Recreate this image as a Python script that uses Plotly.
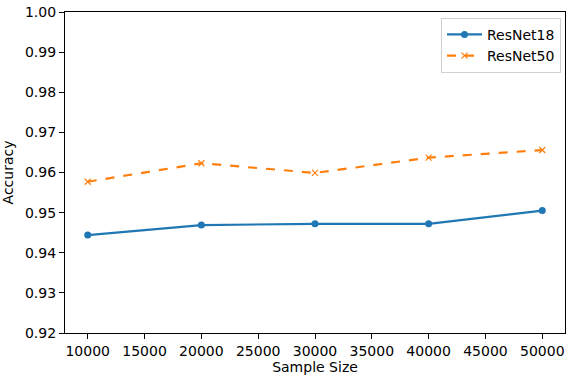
import plotly.graph_objects as go

sample_size = [10000, 20000, 30000, 40000, 50000]
resnet18 = [0.9444, 0.9469, 0.9472, 0.9472, 0.9505]
resnet50 = [0.9577, 0.9623, 0.9599, 0.9637, 0.9656]

y_ticks = [0.92, 0.93, 0.94, 0.95, 0.96, 0.97, 0.98, 0.99, 1.00]
x_ticks = [10000, 15000, 20000, 25000, 30000, 35000, 40000, 45000, 50000]

blue = "#1f77b4"
orange = "#ff7f0e"
font = "DejaVu Sans"

fig = go.Figure()
fig.add_trace(
    go.Scatter(
        x=sample_size,
        y=resnet18,
        mode="lines+markers",
        name="ResNet18",
        line=dict(color=blue, width=2.2),
        marker=dict(symbol="circle", size=7, color=blue),
    )
)
fig.add_trace(
    go.Scatter(
        x=sample_size,
        y=resnet50,
        mode="lines+markers",
        name="ResNet50",
        line=dict(color=orange, width=2.2, dash="dash"),
        marker=dict(symbol="x-thin-open", size=6, line=dict(color=orange, width=1.2)),
    )
)

axis_common = dict(
    showline=True,
    linecolor="black",
    linewidth=1.2,
    mirror=True,
    ticks="outside",
    ticklen=5,
    tickwidth=1,
    tickcolor="black",
    showgrid=False,
    zeroline=False,
    tickfont=dict(family=font, size=14, color="black"),
)

fig.update_layout(
    width=570,
    height=380,
    margin=dict(l=65, r=4, t=9, b=47),
    paper_bgcolor="white",
    plot_bgcolor="white",
    font=dict(family=font, size=14, color="black"),
    xaxis=dict(
        range=[8000, 52000],
        tickvals=x_ticks,
        ticktext=[str(v) for v in x_ticks],
        title=dict(text="Sample Size", font=dict(family=font, size=14), standoff=4),
        **axis_common,
    ),
    yaxis=dict(
        range=[0.92, 1.00],
        tickvals=y_ticks,
        ticktext=[f"{v:.2f}" for v in y_ticks],
        title=dict(text="Accuracy", font=dict(family=font, size=14), standoff=8),
        **axis_common,
    ),
    legend=dict(
        x=0.992,
        y=0.982,
        xanchor="right",
        yanchor="top",
        bgcolor="rgba(255,255,255,0.8)",
        bordercolor="#d0d0d0",
        borderwidth=1,
        font=dict(family=font, size=14),
        itemwidth=35,
        tracegroupgap=0,
    ),
)

# the page's default body margin would shift the figure by 8px
fig.write_html(
    "out.html",
    config={"displayModeBar": False},
    post_script="document.body.style.margin = '0';",
)
